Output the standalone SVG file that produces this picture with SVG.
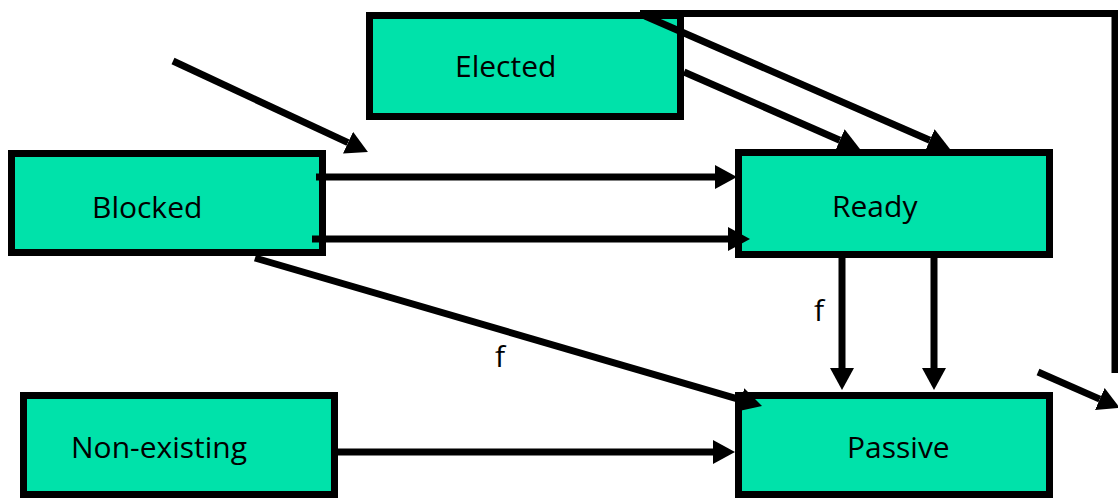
<svg xmlns="http://www.w3.org/2000/svg" width="1118" height="501" viewBox="0 0 1118 501">
  <style>
    .state rect { fill: #00E2AA; stroke: #000; stroke-width: 7; }
    .state text { font-family: "Open Sans", "Liberation Sans", sans-serif; font-size: 30px; fill: #000; }
    .edge { stroke: #000; stroke-width: 7; fill: none; }
    .label { font-family: "Open Sans", "Liberation Sans", sans-serif; font-size: 30px; fill: #000; }
  </style>
  <defs>
    <marker id="arrow" markerUnits="userSpaceOnUse" markerWidth="22" markerHeight="24" refX="0" refY="12" orient="auto" viewBox="0 0 22 24">
      <path d="M0,0 L22,12 L0,24 z" fill="#000"/>
    </marker>
  </defs>
  <rect width="1118" height="501" fill="#fff"/>

  <g id="elected" class="state">
    <rect x="369.5" y="15.5" width="311" height="101"/>
    <text x="455" y="77">Elected</text>
  </g>
  <g id="blocked" class="state">
    <rect x="11.5" y="153.5" width="311" height="99"/>
    <text x="92" y="218">Blocked</text>
  </g>
  <g id="ready" class="state">
    <rect x="738.5" y="152.5" width="311" height="102"/>
    <text x="832" y="217">Ready</text>
  </g>
  <g id="non-existing" class="state">
    <rect x="23.5" y="395.5" width="311" height="99"/>
    <text x="71" y="458">Non-existing</text>
  </g>
  <g id="passive" class="state">
    <rect x="738.5" y="395.5" width="311" height="99"/>
    <text x="847" y="458">Passive</text>
  </g>

  <g id="connectors">
    <!-- loop leaving Elected over the top, down the right side -->
    <polyline class="edge" points="640,13.5 1115,13.5 1115,373"/>
    <!-- entry arrows -->
    <line class="edge" x1="173" y1="61" x2="348" y2="142.7" marker-end="url(#arrow)"/>
    <line class="edge" x1="1038" y1="372" x2="1099.8" y2="399.1" marker-end="url(#arrow)"/>
    <!-- Elected to Ready -->
    <line class="edge" x1="645" y1="16" x2="929.8" y2="140.2" marker-end="url(#arrow)"/>
    <line class="edge" x1="684" y1="72" x2="839.8" y2="140.2" marker-end="url(#arrow)"/>
    <!-- Blocked to Ready -->
    <line class="edge" x1="316" y1="177" x2="715" y2="177" marker-end="url(#arrow)"/>
    <line class="edge" x1="312" y1="239" x2="728" y2="239" marker-end="url(#arrow)"/>
    <!-- Blocked to Passive -->
    <line class="edge" x1="255" y1="258" x2="740.9" y2="399.8" marker-end="url(#arrow)"/>
    <!-- Ready to Passive -->
    <line class="edge" x1="842" y1="258" x2="842" y2="368" marker-end="url(#arrow)"/>
    <line class="edge" x1="934" y1="258" x2="934" y2="368" marker-end="url(#arrow)"/>
    <!-- Non-existing to Passive -->
    <line class="edge" x1="338" y1="452" x2="713" y2="452" marker-end="url(#arrow)"/>
    <text class="label" x="495" y="367">f</text>
    <text class="label" x="814" y="321">f</text>
  </g>
</svg>
